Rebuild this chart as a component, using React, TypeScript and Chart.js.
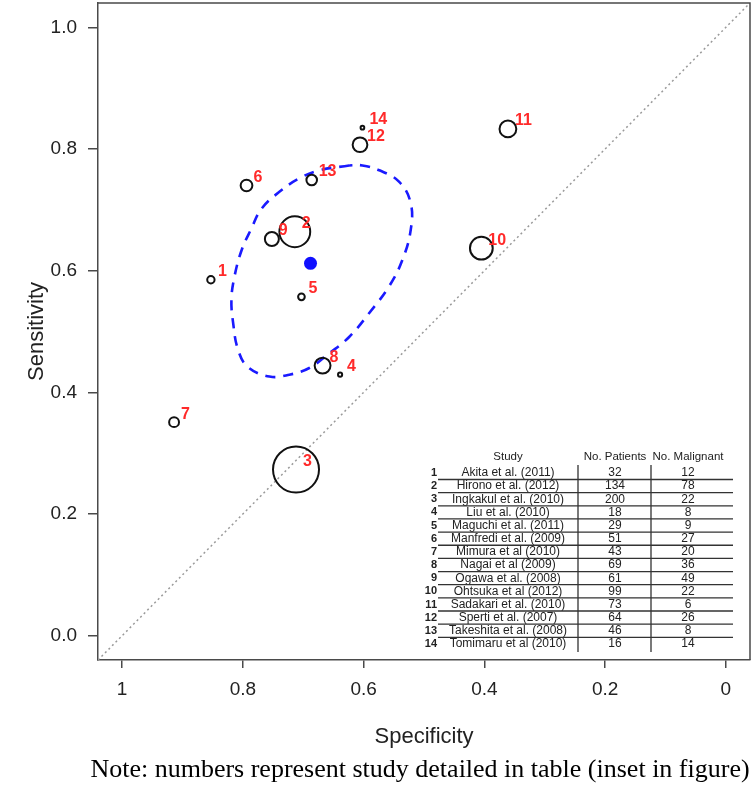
import React, { useEffect, useRef } from "react";
import { Chart, registerables } from "chart.js";

Chart.register(...registerables);

// ---- data ----
const studyNames = [
  "Akita et al. (2011)",
  "Hirono et al. (2012)",
  "Ingkakul et al. (2010)",
  "Liu et al. (2010)",
  "Maguchi et al. (2011)",
  "Manfredi et al. (2009)",
  "Mimura et al (2010)",
  "Nagai et al (2009)",
  "Ogawa et al. (2008)",
  "Ohtsuka et al (2012)",
  "Sadakari et al. (2010)",
  "Sperti et al. (2007)",
  "Takeshita et al. (2008)",
  "Tomimaru et al (2010)",
];
const patients = [32, 134, 200, 18, 29, 51, 43, 69, 61, 99, 73, 64, 46, 16];
const malignant = [12, 78, 22, 8, 9, 27, 20, 36, 49, 22, 6, 26, 8, 14];
const specificity = [0.853, 0.714, 0.712, 0.639, 0.703, 0.794, 0.914, 0.668, 0.752, 0.405, 0.361, 0.606, 0.686, 0.602];
const sensitivity = [0.585, 0.664, 0.273, 0.429, 0.557, 0.740, 0.351, 0.444, 0.652, 0.637, 0.833, 0.807, 0.749, 0.835];

const summarySpec = [0.688];
const summarySens = [0.612];

const ellipseSpec = [0.624, 0.673, 0.706, 0.739, 0.769, 0.786, 0.802, 0.814, 0.819, 0.816, 0.808, 0.792, 0.756, 0.723, 0.690, 0.657, 0.624, 0.591, 0.558, 0.536, 0.522, 0.522, 0.541, 0.574, 0.602, 0.624];
const ellipseSens = [0.773, 0.765, 0.752, 0.730, 0.702, 0.669, 0.634, 0.590, 0.552, 0.513, 0.470, 0.442, 0.426, 0.429, 0.440, 0.464, 0.491, 0.530, 0.574, 0.617, 0.667, 0.711, 0.746, 0.765, 0.773, 0.773];

const diagSpec = [1.04, -0.04];
const diagSens = [-0.04, 1.04];

const xTicks = [0, 0.2, 0.4, 0.6, 0.8, 1];
const xTickLabels = ["0", "0.2", "0.4", "0.6", "0.8", "1"];
const yTicks = [0, 0.2, 0.4, 0.6, 0.8, 1];
const yTickLabels = ["0.0", "0.2", "0.4", "0.6", "0.8", "1.0"];

const tableHeaders = ["Study", "No. Patients", "No. Malignant"];
const xTitle = "Specificity";
const yTitle = "Sensitivity";
const note = "Note: numbers represent study detailed in table (inset in figure)";

const SANS = "'Liberation Sans', Arial, sans-serif";
const AXIS_COLOR = "#4a4a4a";

const zeroPad = (s: any) => {
  s.paddingTop = 0;
  s.paddingBottom = 0;
  s.paddingLeft = 0;
  s.paddingRight = 0;
};

const overlayPlugin = {
  id: "overlay",
  afterDatasetsDraw(chart: any) {
    const ctx = chart.ctx;
    const ca = chart.chartArea;
    // red study labels
    const meta = chart.getDatasetMeta(2);
    ctx.save();
    ctx.fillStyle = "#ff2a2a";
    ctx.font = `bold 16px ${SANS}`;
    ctx.textAlign = "left";
    ctx.textBaseline = "middle";
    meta.data.forEach((el: any, i: number) => {
      ctx.fillText(String(i + 1), el.x + 7, el.y - 8);
    });
    ctx.restore();

    // top/right borders of the box
    ctx.save();
    ctx.strokeStyle = AXIS_COLOR;
    ctx.lineWidth = 1.5;
    ctx.beginPath();
    ctx.moveTo(ca.left, ca.top);
    ctx.lineTo(ca.right, ca.top);
    ctx.lineTo(ca.right, ca.bottom);
    ctx.stroke();
    ctx.restore();

    // inset table
    const numX = ca.left + 339;
    const studyX = ca.left + 410;
    const patX = ca.left + 517;
    const malX = ca.left + 590;
    const div1 = ca.left + 480;
    const div2 = ca.left + 553;
    const lineL = ca.left + 340;
    const lineR = ca.right - 17;
    const headY = 457;
    const row0 = 473;
    const rowH = 13.15;
    ctx.save();
    ctx.fillStyle = "#222";
    ctx.textBaseline = "middle";
    ctx.font = `11.5px ${SANS}`;
    ctx.textAlign = "center";
    ctx.fillText(tableHeaders[0], studyX, headY);
    ctx.fillText(tableHeaders[1], patX, headY);
    ctx.fillText(tableHeaders[2], malX, headY);
    studyNames.forEach((name, i) => {
      const y = row0 + i * rowH;
      ctx.textAlign = "right";
      ctx.font = `bold 11px ${SANS}`;
      ctx.fillText(String(i + 1), numX, y);
      ctx.textAlign = "center";
      ctx.font = `12px ${SANS}`;
      ctx.fillText(name, studyX, y);
      ctx.fillText(String(patients[i]), patX, y);
      ctx.fillText(String(malignant[i]), malX, y);
    });
    ctx.strokeStyle = "#333";
    ctx.lineWidth = 1.3;
    ctx.beginPath();
    for (let i = 0; i < studyNames.length - 1; i++) {
      const y = row0 + i * rowH + 6.5;
      ctx.moveTo(lineL, y);
      ctx.lineTo(lineR, y);
    }
    ctx.moveTo(div1, 465);
    ctx.lineTo(div1, 652);
    ctx.moveTo(div2, 465);
    ctx.lineTo(div2, 652);
    ctx.stroke();
    ctx.restore();
  },
  afterDraw(chart: any) {
    const ctx = chart.ctx;
    const ca = chart.chartArea;
    ctx.save();
    ctx.fillStyle = "#222";
    ctx.font = `22px ${SANS}`;
    ctx.textAlign = "center";
    ctx.textBaseline = "middle";
    ctx.fillText(xTitle, (ca.left + ca.right) / 2, 737);
    ctx.translate(37, (ca.top + ca.bottom) / 2);
    ctx.rotate(-Math.PI / 2);
    ctx.fillText(yTitle, 0, 0);
    ctx.restore();
    ctx.save();
    ctx.fillStyle = "#000";
    ctx.font = `26px 'Liberation Serif', 'Times New Roman', serif`;
    ctx.textAlign = "center";
    ctx.textBaseline = "middle";
    ctx.fillText(note, 420, 770);
    ctx.restore();
  },
};

export default function App() {
  const ref = useRef<HTMLCanvasElement | null>(null);
  useEffect(() => {
    if (!ref.current) return;
    const chart = new Chart(ref.current, {
      type: "scatter",
      data: {
        datasets: [
          {
            type: "line",
            data: diagSpec.map((x, i) => ({ x, y: diagSens[i] })),
            borderColor: "#9a9a9a",
            borderWidth: 1.5,
            borderDash: [2, 3],
            pointRadius: 0,
            fill: false,
            order: 4,
          } as any,
          {
            type: "line",
            data: ellipseSpec.map((x, i) => ({ x, y: ellipseSens[i] })),
            borderColor: "#1a1aff",
            borderWidth: 2.6,
            borderDash: [10, 8],
            pointRadius: 0,
            tension: 0.4,
            fill: false,
            order: 3,
          } as any,
          {
            data: specificity.map((x, i) => ({ x, y: sensitivity[i] })),
            pointRadius: patients.map((n) => n * 0.115),
            pointBorderWidth: 2,
            pointBorderColor: "#111",
            pointBackgroundColor: "rgba(0,0,0,0)",
            order: 2,
          } as any,
          {
            data: summarySpec.map((x, i) => ({ x, y: summarySens[i] })),
            pointRadius: 6.5,
            pointBorderWidth: 0,
            pointBackgroundColor: "#1010ff",
            order: 1,
          } as any,
        ],
      },
      options: {
        responsive: false,
        animation: false,
        events: [],
        layout: { autoPadding: false, padding: { top: 3, right: 6, left: 0, bottom: 0 } },
        plugins: { legend: { display: false }, tooltip: { enabled: false } },
        scales: {
          x: {
            type: "linear",
            reverse: true,
            min: -0.04,
            max: 1.04,
            afterBuildTicks: (s: any) => {
              s.ticks = xTicks.map((v) => ({ value: v }));
            },
            afterFit: (s: any) => {
              s.height = 127;
              zeroPad(s);
            },
            ticks: {
              callback: (v: any) => xTickLabels[xTicks.indexOf(Number(v))] ?? "",
              font: { family: SANS, size: 19 },
              color: "#222",
              padding: 10,
              maxRotation: 0,
              autoSkip: false,
            },
            grid: { drawOnChartArea: false, drawTicks: true, tickLength: 8, color: AXIS_COLOR, lineWidth: 1.5 },
            border: { display: true, color: AXIS_COLOR, width: 1.5 },
          },
          y: {
            type: "linear",
            min: -0.04,
            max: 1.04,
            afterBuildTicks: (s: any) => {
              s.ticks = yTicks.map((v) => ({ value: v }));
            },
            afterFit: (s: any) => {
              s.width = 98;
              zeroPad(s);
            },
            ticks: {
              callback: (v: any) => yTickLabels[yTicks.indexOf(Number(v))] ?? "",
              font: { family: SANS, size: 19 },
              color: "#222",
              padding: 11,
              autoSkip: false,
            },
            grid: { drawOnChartArea: false, drawTicks: true, tickLength: 10, color: AXIS_COLOR, lineWidth: 1.5 },
            border: { display: true, color: AXIS_COLOR, width: 1.5 },
          },
        },
      },
      plugins: [overlayPlugin],
    });
    return () => chart.destroy();
  }, []);
  return (
    <div style={{ position: "absolute", left: 0, top: 0, width: 756, height: 787, background: "#fff" }}>
      <canvas ref={ref} width={756} height={787} style={{ display: "block" }} />
    </div>
  );
}
